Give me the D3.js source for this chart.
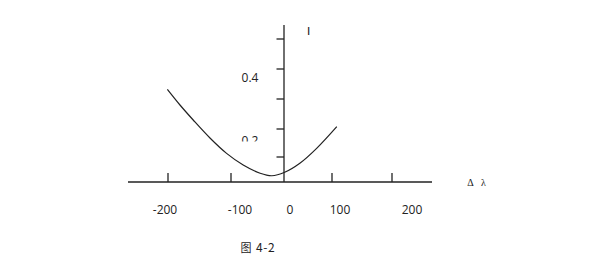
<!DOCTYPE html>
<html><head><meta charset="utf-8">
<script src="https://cdn.jsdelivr.net/npm/d3@7"></script>
<style>body{margin:0;background:#fff}svg{display:block}</style>
</head><body><div id="c"></div>
<script>
// data
const xTickValues = [-200, -100, 0, 100, 200];
const xTickLabels = ["-200", "-100", "0", "100", "200"];
const yTickValues = [0.1, 0.2, 0.3, 0.4, 0.5];
const yLabelValues = [0.2, 0.4];
const yLabelText = ["0.2", "0.4"];
const curveX = [-201, -181, -160, -133, -107, -77, -45, -23, 1.5, 33, 68, 108];
const curveY = [0.332, 0.28, 0.23, 0.167, 0.113, 0.068, 0.035, 0.025, 0.039, 0.075, 0.131, 0.208];
const xAxisTitle = ["Δ", "λ"];
const yAxisTitle = "I";
const caption = ["图", "4-2"];

const W = 602, H = 271;
const svg = d3.select("#c").append("svg").attr("width", W).attr("height", H);
const ink = "#222";
const sans = "Open Sans, Noto Sans, sans-serif";

// hand-drawn (non-uniform) scales
const x = d3.scaleLinear().domain([-200, -100, 0, 100, 200]).range([168, 231, 284, 332, 392]);
const xLab = d3.scaleLinear().domain([-200, -100, 0, 100, 200]).range([165, 240, 290, 340, 412]);
const y = d3.scaleLinear().domain([0, 0.1, 0.2, 0.3, 0.4, 0.5]).range([182, 157, 129, 99, 69, 39]);
const yLab = d3.scaleLinear().domain([0.2, 0.4]).range([145, 82]);

// x axis line
svg.append("line").attr("x1", 128).attr("x2", 432).attr("y1", y(0)).attr("y2", y(0))
  .attr("stroke", ink).attr("stroke-width", 1.3);
svg.selectAll(".xt").data(xTickValues.filter(d => d !== 0)).enter().append("line")
  .attr("x1", d => x(d)).attr("x2", d => x(d)).attr("y1", y(0)).attr("y2", y(0) - 9)
  .attr("stroke", ink).attr("stroke-width", 1.3);
svg.selectAll(".xl").data(xTickValues).enter().append("text")
  .attr("x", d => xLab(d)).attr("y", 214).attr("text-anchor", "middle")
  .attr("font-family", sans).attr("font-size", 12).attr("fill", ink)
  .text((d, i) => xTickLabels[i]);

// y axis line
svg.append("line").attr("x1", x(0)).attr("x2", x(0)).attr("y1", 25).attr("y2", y(0))
  .attr("stroke", ink).attr("stroke-width", 1.3);
svg.selectAll(".yt").data(yTickValues).enter().append("line")
  .attr("x1", x(0) - 7.5).attr("x2", x(0)).attr("y1", d => y(d)).attr("y2", d => y(d))
  .attr("stroke", ink).attr("stroke-width", 1.3);

// y labels (lower one partially hidden in the original)
svg.append("defs").append("clipPath").attr("id", "clipY").append("rect")
  .attr("x", 0).attr("y", 0).attr("width", W).attr("height", 141.6);
svg.selectAll(".yl").data(yLabelValues).enter().append("text")
  .attr("x", 250).attr("y", d => yLab(d)).attr("text-anchor", "middle")
  .attr("clip-path", "url(#clipY)")
  .attr("font-family", sans).attr("font-size", 12).attr("fill", ink)
  .text((d, i) => yLabelText[i]);

// axis titles
svg.append("text").attr("x", 308.5).attr("y", 35).attr("text-anchor", "middle")
  .attr("font-family", "DejaVu Sans, sans-serif").attr("font-size", 11).attr("fill", "#111")
  .text(yAxisTitle);
const xt = svg.append("text").attr("y", 185.5).attr("text-anchor", "middle")
  .attr("font-family", "Liberation Serif, DejaVu Serif, serif").attr("font-size", 10).attr("fill", ink);
xt.append("tspan").attr("x", 470.5).text(xAxisTitle[0]);
xt.append("tspan").attr("x", 483.5).text(xAxisTitle[1]);

// caption
const cap = svg.append("text").attr("y", 252).attr("fill", ink)
  .attr("font-family", "Noto Sans CJK SC, sans-serif").attr("font-size", 12);
cap.append("tspan").attr("x", 240.5).attr("font-size", 11).text(caption[0]);
cap.append("tspan").attr("x", 256).attr("letter-spacing", 0.6).text(caption[1]);

// curve
const pts = curveX.map((v, i) => [v, curveY[i]]);
svg.append("path").datum(pts)
  .attr("d", d3.line().x(d => x(d[0])).y(d => y(d[1])).curve(d3.curveCatmullRom))
  .attr("fill", "none").attr("stroke", ink).attr("stroke-width", 1.2);
</script></body></html>
